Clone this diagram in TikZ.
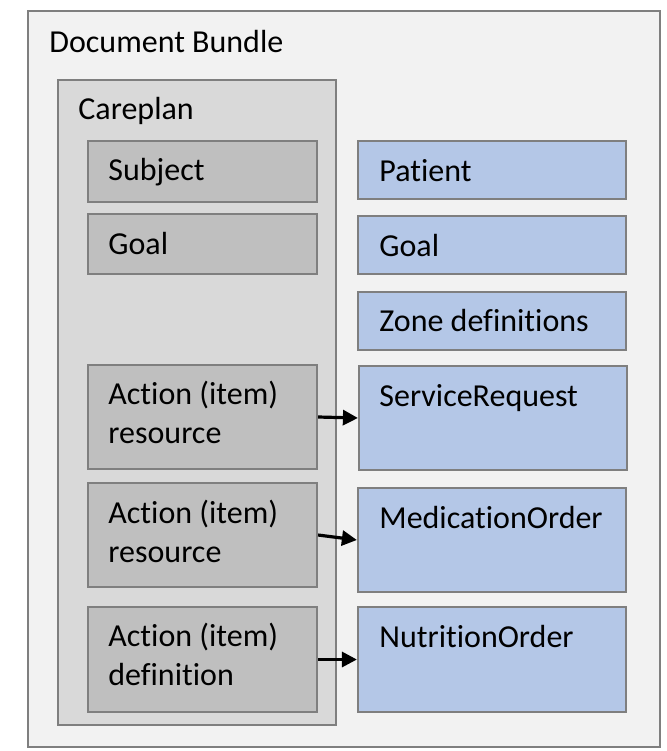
\documentclass[tikz,border=0pt]{standalone}
\usepackage{fontspec}
\setmainfont{Carlito}[Ligatures={NoCommon,NoRequired,NoContextual}]
\usetikzlibrary{fit,arrows.meta}
\definecolor{outerfill}{HTML}{F2F2F2}
\definecolor{planfill}{HTML}{D9D9D9}
\definecolor{itemfill}{HTML}{BFBFBF}
\definecolor{bluefill}{HTML}{B4C7E7}
\definecolor{edge}{HTML}{7F7F7F}
\begin{document}
\begin{tikzpicture}[x=0.5pt,y=-0.5pt,
  box/.style={draw=edge, line width=1.1pt, inner sep=0pt, rectangle},
  outerbox/.style={box, fill=outerfill},
  planbox/.style={box, fill=planfill},
  itembox/.style={box, fill=itemfill},
  bluebox/.style={box, fill=bluefill},
  txt/.style={inner sep=0pt, anchor=base west, font=\fontsize{16}{19.5}\selectfont, align=left},
  link/.style={line width=1.6pt, -{Triangle[length=7.5pt,width=7.5pt]}}]
\useasboundingbox (0,0) rectangle (666,751);
\node[outerbox, fit={(28,11) (660,747)}] (bundle) {};
\node[planbox, fit={(58,80) (336,725)}] (careplan) {};
\node[itembox, fit={(88,141) (317,202)}] (subj) {};
\node[itembox, fit={(88,214) (317,274)}] (goal) {};
\node[itembox, fit={(88,365) (317,469)}] (act1) {};
\node[itembox, fit={(88,483) (317,587)}] (act2) {};
\node[itembox, fit={(88,607) (317,712)}] (act3) {};
\node[bluebox, fit={(358,141) (626,199)}] (patient) {};
\node[bluebox, fit={(358,216) (626,274)}] (bgoal) {};
\node[bluebox, fit={(358,292) (626,350)}] (zone) {};
\node[bluebox, fit={(359,366) (627,470)}] (sreq) {};
\node[bluebox, fit={(358,488) (626,592)}] (med) {};
\node[bluebox, fit={(358,607) (626,712)}] (nut) {};
\node[txt] (tbundle) at (49,52) {Document Bundle};
\node[txt] (tplan) at (78,119) {Careplan};
\node[txt] (tsubj) at (108,180) {Subject};
\node[txt] (tgoal) at (108,254) {Goal};
\node[txt] (tact1) at (108,443) {Action (item)\\resource};
\node[txt] (tact2) at (108,562) {Action (item)\\resource};
\node[txt] (tact3) at (108,685) {Action (item)\\definition};
\node[txt] (tpat) at (379,181) {Patient};
\node[txt] (tbgoal) at (379,256) {Goal};
\node[txt] (tzone) at (379,331) {Zone definitions};
\node[txt] (tsreq) at (379,406) {ServiceRequest};
\node[txt] (tmed) at (379,528) {MedicationOrder};
\node[txt] (tnut) at (379,647) {NutritionOrder};
\draw[link] (act1.east) -- (sreq.west);
\draw[link] (act2.east) -- (med.west);
\draw[link] (act3.east) -- (nut.west);
\end{tikzpicture}
\end{document}
